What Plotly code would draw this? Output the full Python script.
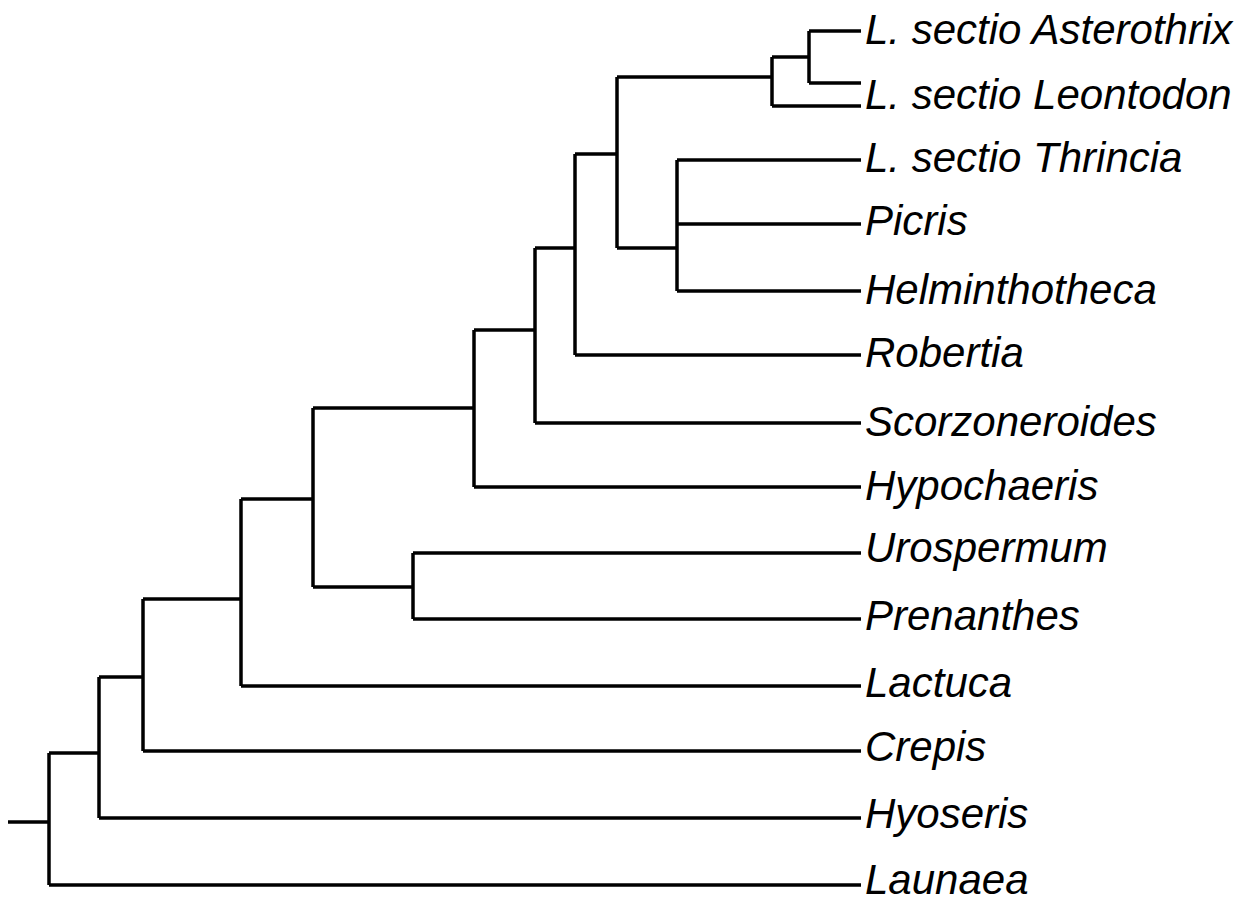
import plotly.graph_objects as go

# ---- tree data ----
tip_ids = ["Asterothrix", "Leontodon_a", "Leontodon_b", "Thrincia", "Picris",
           "Helminthotheca", "Robertia", "Scorzoneroides", "Hypochaeris",
           "Urospermum", "Prenanthes", "Lactuca", "Crepis", "Hyoseris", "Launaea"]
tip_y = [31, 83, 106, 160, 224, 291, 355, 423, 487, 553, 619, 686, 751, 818, 885]
tip_x_end = 861

label_text = ["L. sectio Asterothrix", "L. sectio Leontodon", "L. sectio Thrincia",
              "Picris", "Helminthotheca", "Robertia", "Scorzoneroides", "Hypochaeris",
              "Urospermum", "Prenanthes", "Lactuca", "Crepis", "Hyoseris", "Launaea"]
label_y = [33, 98, 161, 224, 293, 356, 425, 489, 551, 619, 686, 750, 817, 883]

node_ids = ["N1", "N2", "N3", "N4", "N5", "N6", "N7", "N8", "N9", "N10", "N11", "N12", "N13"]
node_x = [809, 772, 617, 677, 575, 535, 474, 313, 413, 241, 143, 99, 49]
node_y = [57, 77, 154, 248, 248, 330, 408, 499, 587, 599, 677, 753, 822]
node_children = [
    ["Asterothrix", "Leontodon_a"],
    ["N1", "Leontodon_b"],
    ["N2", "N4"],
    ["Thrincia", "Picris", "Helminthotheca"],
    ["N3", "Robertia"],
    ["N5", "Scorzoneroides"],
    ["N6", "Hypochaeris"],
    ["N7", "N9"],
    ["Urospermum", "Prenanthes"],
    ["N8", "Lactuca"],
    ["N10", "Crepis"],
    ["N11", "Hyoseris"],
    ["N12", "Launaea"],
]
root_x = 8

# ---- build segments ----
pos = {}
for t, y in zip(tip_ids, tip_y):
    pos[t] = (tip_x_end, y)
for n, x, y in zip(node_ids, node_x, node_y):
    pos[n] = (x, y)

xs, ys = [], []
for n, x, kids in zip(node_ids, node_x, node_children):
    kid_y = [pos[k][1] for k in kids]
    xs += [x, x, None]
    ys += [min(kid_y), max(kid_y), None]
    for k in kids:
        kx, ky = pos[k]
        xs += [x, kx, None]
        ys += [ky, ky, None]
# root stem
rx, ry = pos[node_ids[-1]]
xs += [root_x, rx, None]
ys += [ry, ry, None]

fig = go.Figure()
fig.add_trace(go.Scatter(x=xs, y=ys, mode="lines",
                         line=dict(color="black", width=3.5),
                         hoverinfo="skip", showlegend=False, cliponaxis=False))
fig.add_trace(go.Scatter(x=[tip_x_end + 4] * len(label_text), y=label_y,
                         mode="text", text=["<i>" + s + "</i>" for s in label_text],
                         textposition="middle right",
                         textfont=dict(family="Liberation Sans, Arial, sans-serif",
                                       size=42, color="black"),
                         hoverinfo="skip", showlegend=False, cliponaxis=False))

# page body has an 8px margin: shrink figure and offset ranges to compensate
PAD = 8
W, H = 1257, 902
fig.update_layout(width=W - 2 * PAD, height=H - 2 * PAD,
                  margin=dict(l=0, r=0, t=0, b=0),
                  paper_bgcolor="white", plot_bgcolor="white")
fig.update_xaxes(range=[PAD, W - PAD], visible=False)
fig.update_yaxes(range=[H - PAD, PAD], visible=False)

fig.write_html("out.html")
